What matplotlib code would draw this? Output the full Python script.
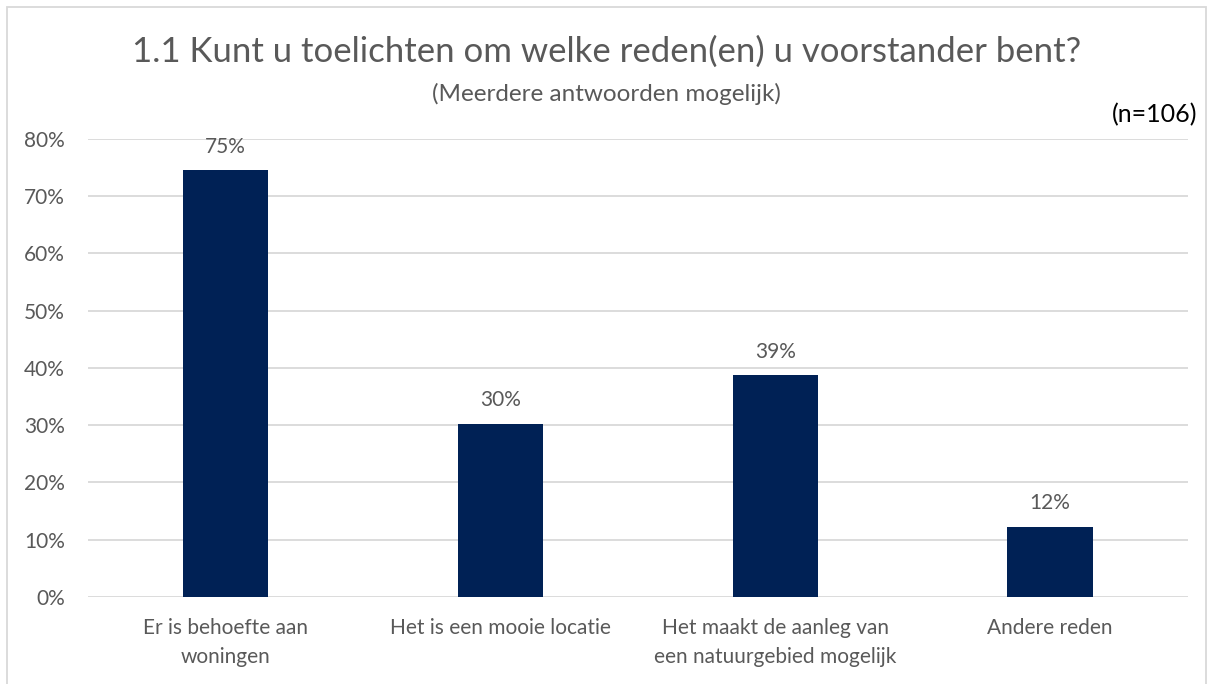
import matplotlib.pyplot as plt
import matplotlib.patches as patches
from matplotlib.ticker import PercentFormatter

# Data
categories = [
    "Er is behoefte aan\nwoningen",
    "Het is een mooie locatie",
    "Het maakt de aanleg van\neen natuurgebied mogelijk",
    "Andere reden",
]
values = [0.745, 0.302, 0.387, 0.123]
labels = ["75%", "30%", "39%", "12%"]
yticks = [0, 0.1, 0.2, 0.3, 0.4, 0.5, 0.6, 0.7, 0.8]

BAR = "#002155"
GRID = "#d9d9d9"
TXT = "#595959"

plt.rcParams["font.family"] = ["Lato", "DejaVu Sans"]

fig = plt.figure(figsize=(12.13, 6.84), dpi=100)
ax = fig.add_axes([0.0725, 0.1272, 0.9065, 0.6696])

x = range(len(categories))
bars = ax.bar(x, values, width=0.31, color=BAR, zorder=3)
for b, lab in zip(bars, labels):
    ax.annotate(lab, (b.get_x() + b.get_width() / 2, b.get_height()),
                xytext=(0, 10), textcoords="offset points",
                ha="center", va="bottom", fontsize=15, color=TXT)

ax.set_xlim(-0.5, len(categories) - 0.5)
ax.set_ylim(0, 0.8)
ax.set_yticks(yticks)
ax.yaxis.set_major_formatter(PercentFormatter(1.0, decimals=0))
ax.set_xticks(list(x))
ax.set_xticklabels(categories, linespacing=1.55, fontsize=15.5)
ax.grid(axis="y", color=GRID, lw=1.3, zorder=0)
ax.tick_params(axis="both", length=0, labelsize=15, colors=TXT)
ax.tick_params(axis="x", pad=15)
ax.tick_params(axis="y", pad=16.5)
for s in ax.spines.values():
    s.set_visible(False)

fig.text(0.5, 0.925, "1.1 Kunt u toelichten om welke reden(en) u voorstander bent?",
         ha="center", va="center", fontsize=25, color=TXT)
fig.text(0.5, 0.863, "(Meerdere antwoorden mogelijk)",
         ha="center", va="center", fontsize=17.5, color=TXT)
fig.text(0.987, 0.832, "(n=106)", ha="right", va="center", fontsize=18, color="black")

fig.patches.append(patches.Rectangle((0.006, -0.01), 0.988, 1.0, transform=fig.transFigure,
                                     fill=False, ec="#d9d9d9", lw=1.3))

fig.savefig("out.png", dpi=100)
